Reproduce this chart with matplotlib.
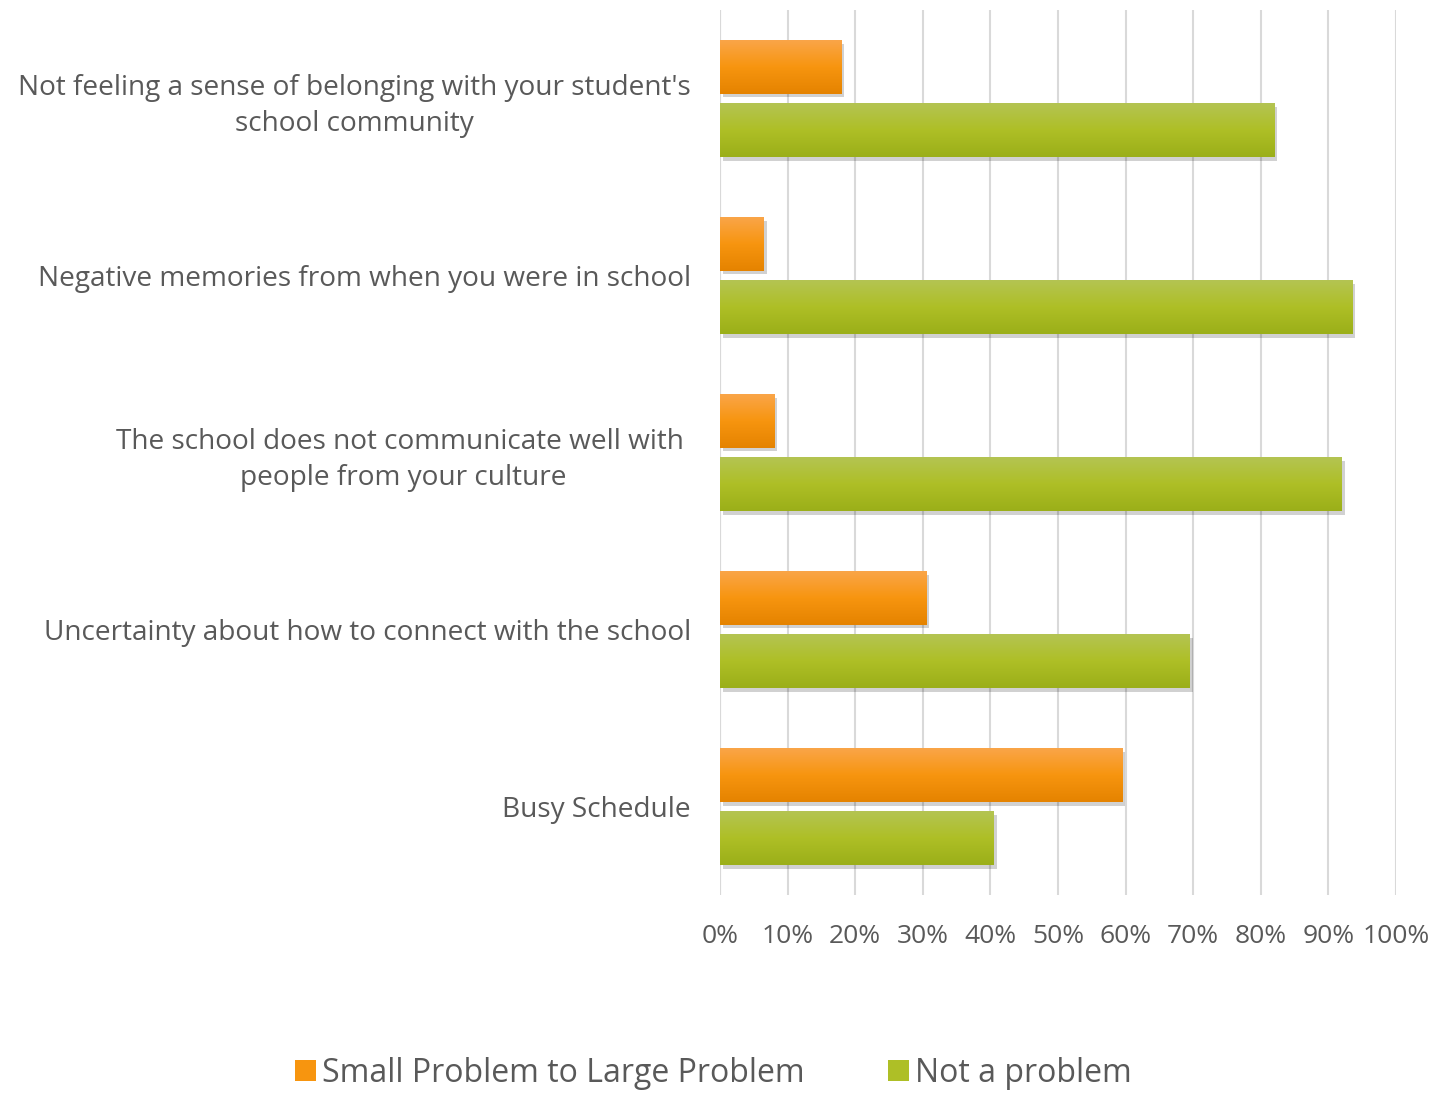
import numpy as np
import matplotlib
matplotlib.use('Agg')
import matplotlib.pyplot as plt
import matplotlib.patheffects as pe
from matplotlib.colors import LinearSegmentedColormap
from matplotlib.patches import Patch

## --- Data
categories = [
    "Not feeling a sense of belonging with your student's\nschool community",
    "Negative memories from when you were in school",
    "The school does not communicate well with \npeople from your culture",
    "Uncertainty about how to connect with the school",
    "Busy Schedule",
]
small_to_large = [18, 6.5, 8, 30.5, 59.5]   # Small Problem to Large Problem (%)
not_a_problem = [82, 93.5, 92, 69.5, 40.5]  # Not a problem (%)
series_names = ['Small Problem to Large Problem', 'Not a problem']
xticks = list(range(0, 101, 10))

## --- Style
plt.rcParams['font.family'] = ['Open Sans', 'DejaVu Sans']
text_color = '#595959'
grid_color = '#D9D9D9'
orange_grad = ['#FAA548', '#F7950F', '#E58300']
green_grad = ['#B4C452', '#AEBF26', '#9BAF19']
orange_mid = '#F7950F'
green_mid = '#AEBF26'

fig = plt.figure(figsize=(14.47, 11.02), dpi=100)
ax = fig.add_axes([0.4976, 0.1878, 0.4672, 0.8031])

y = np.arange(len(categories))
bar_h = 0.305
off = 0.178

bars_o = ax.barh(y - off, small_to_large, height=bar_h, color=orange_mid, zorder=3)
bars_g = ax.barh(y + off, not_a_problem, height=bar_h, color=green_mid, zorder=3)

shadow = [pe.SimplePatchShadow(offset=(2, -2.5), shadow_rgbFace='black', alpha=0.18), pe.Normal()]
grad = np.linspace(0, 1, 64).reshape(-1, 1)
for bars, cols in [(bars_o, orange_grad), (bars_g, green_grad)]:
    cmap = LinearSegmentedColormap.from_list('g', cols)
    for b in bars:
        b.set_path_effects(shadow)
        bb = b.get_bbox()
        # bottom of bar (larger y, inverted axis) is darker
        im = ax.imshow(grad, cmap=cmap, aspect='auto', zorder=4,
                       extent=(bb.x0, bb.x1, bb.y1, bb.y0), origin='upper')
        im.set_clip_path(b)

ax.set_xlim(0, 100)
ax.set_ylim(len(categories) - 0.5, -0.5)
ax.set_xticks(xticks)
ax.set_xticklabels([f'{t}%' for t in xticks])
ax.set_yticks(y)
ax.set_yticklabels(categories, multialignment='center', linespacing=1.4)

ax.grid(axis='x', color=grid_color, linewidth=1.5, zorder=0)
ax.set_axisbelow(True)
for s in ax.spines.values():
    s.set_visible(False)
ax.axvline(0, color=grid_color, linewidth=1.5, zorder=1)
ax.tick_params(axis='x', length=0, colors=text_color, labelsize=19, pad=21)
ax.tick_params(axis='y', length=0, colors=text_color, labelsize=20.2, pad=21)

handles = [Patch(facecolor=orange_mid), Patch(facecolor=green_mid)]
fig.legend(handles, series_names, loc='center', bbox_to_anchor=(0.493, 0.026),
           ncol=2, frameon=False, fontsize=23, labelcolor=text_color,
           handlelength=0.65, handleheight=0.65, handletextpad=0.2, columnspacing=2.6)

plt.savefig('out.png', dpi=100)
plt.close()
